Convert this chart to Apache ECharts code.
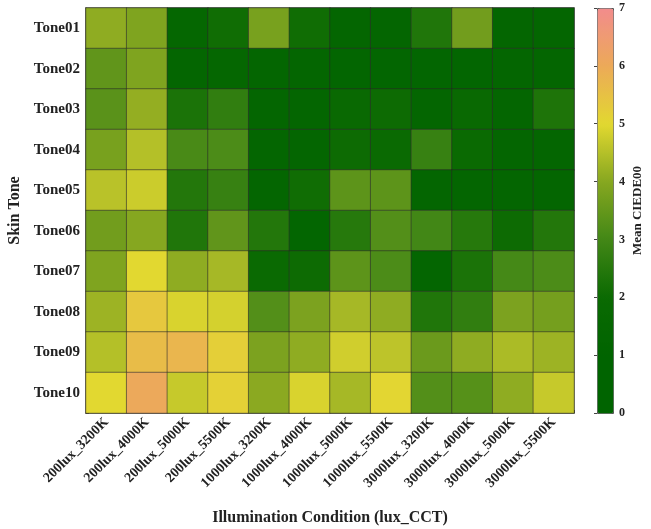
<!DOCTYPE html>
<html>
<head>
<meta charset="utf-8">
<title>Mean CIEDE00 heatmap</title>
<script src="https://cdn.jsdelivr.net/npm/echarts@6/dist/echarts.min.js"></script>
<style>
  html, body { margin: 0; padding: 0; background: #fff; }
  #chart { width: 651px; height: 529px; }
</style>
</head>
<body>
<div id="chart"></div>
<script>
// 光照条件 (x 轴)
var conditions = ['200lux_3200K', '200lux_4000K', '200lux_5000K', '200lux_5500K',
  '1000lux_3200K', '1000lux_4000K', '1000lux_5000K', '1000lux_5500K',
  '3000lux_3200K', '3000lux_4000K', '3000lux_5000K', '3000lux_5500K'];
// 肤色 (y 轴)
var tones = ['Tone01', 'Tone02', 'Tone03', 'Tone04', 'Tone05',
  'Tone06', 'Tone07', 'Tone08', 'Tone09', 'Tone10'];

// 每行一个肤色, 按光照条件顺序
var tone01 = [4.1, 3.9, 1.5, 2.1, 3.8, 2.1, 1.4, 1.4, 2.4, 3.7, 1.4, 1.4];
var tone02 = [3.45, 3.9, 1.4, 1.5, 1.4, 1.4, 1.3, 1.3, 1.3, 1.3, 1.4, 1.4];
var tone03 = [3.35, 4.15, 2.3, 2.7, 1.4, 1.4, 1.9, 2.05, 1.4, 1.9, 1.4, 2.35];
var tone04 = [3.8, 4.5, 3.1, 3.15, 1.4, 1.4, 2.05, 1.95, 2.8, 2.0, 1.4, 1.4];
var tone05 = [4.55, 4.75, 2.45, 2.8, 1.4, 2.1, 3.4, 3.4, 1.4, 1.4, 1.4, 1.4];
var tone06 = [3.7, 4.0, 2.4, 3.45, 2.45, 1.3, 2.5, 3.25, 3.0, 2.5, 2.05, 2.45];
var tone07 = [3.9, 5.0, 4.1, 4.35, 2.0, 2.05, 3.4, 3.15, 1.4, 2.3, 3.05, 3.15];
var tone08 = [4.25, 5.35, 4.9, 4.85, 3.25, 3.85, 4.35, 4.1, 2.4, 2.7, 3.85, 3.75];
var tone09 = [4.5, 5.6, 5.75, 5.2, 3.85, 4.1, 4.8, 4.6, 3.6, 4.1, 4.4, 4.25];
var tone10 = [5.0, 6.05, 4.7, 5.15, 4.05, 4.9, 4.35, 5.05, 3.25, 3.3, 4.1, 4.7];

var rows = [tone01, tone02, tone03, tone04, tone05, tone06, tone07, tone08, tone09, tone10];

// 色条刻度
var barTicks = [0, 1, 2, 3, 4, 5, 6, 7];

var FONT = '"Liberation Serif", "DejaVu Serif", serif';

function buildData() {
  var data = [];
  for (var r = 0; r < rows.length; r++) {
    for (var c = 0; c < conditions.length; c++) {
      data.push([c, r, rows[r][c]]);
    }
  }
  return data;
}

var chart = echarts.init(document.getElementById('chart'));

var option = {
  backgroundColor: '#fff',
  animation: false,
  grid: [
    { left: 86, top: 8, width: 488, height: 405, show: true, borderColor: '#666', borderWidth: 1.5,
      containLabel: false, outerBoundsMode: 'none' },
    { left: 597, top: 8, width: 16, height: 405, show: false,
      containLabel: false, outerBoundsMode: 'none' }
  ],
  xAxis: [
    {
      gridIndex: 0,
      type: 'category',
      data: conditions,
      name: 'Illumination Condition (lux_CCT)',
      nameLocation: 'middle',
      nameGap: 97,
      nameTextStyle: { fontFamily: FONT, fontWeight: 'bold', fontSize: 16, color: '#222' },
      axisLine: { show: true, lineStyle: { color: '#666', width: 1.5 } },
      axisTick: { show: true, inside: true, length: 3, lineStyle: { color: '#333' } },
      axisLabel: { rotate: 45, margin: 7, fontFamily: FONT, fontWeight: 'bold', fontSize: 14, color: '#222' },
      splitLine: { show: false }
    },
    { gridIndex: 1, type: 'value', show: false, min: 0, max: 1 }
  ],
  yAxis: [
    {
      gridIndex: 0,
      type: 'category',
      data: tones,
      inverse: true,
      name: 'Skin Tone',
      nameLocation: 'middle',
      nameGap: 49,
      nameRotate: 90,
      nameTextStyle: { fontFamily: FONT, fontWeight: 'bold', fontSize: 16, color: '#222' },
      axisLine: { show: true, lineStyle: { color: '#666', width: 1.5 } },
      axisTick: { show: true, inside: true, length: 3, lineStyle: { color: '#333' } },
      axisLabel: { margin: 6, fontFamily: FONT, fontWeight: 'bold', fontSize: 15, color: '#222' },
      splitLine: { show: false }
    },
    {
      gridIndex: 1,
      type: 'value',
      position: 'right',
      zlevel: 1,
      min: barTicks[0],
      max: barTicks[barTicks.length - 1],
      interval: 1,
      name: 'Mean CIEDE00',
      nameLocation: 'middle',
      nameGap: 18,
      nameRotate: 90,
      nameTextStyle: { fontFamily: FONT, fontWeight: 'bold', fontSize: 13, color: '#222' },
      axisLine: { show: false },
      axisTick: { show: true, inside: true, length: 3, lineStyle: { color: '#444', width: 1 } },
      axisLabel: { margin: 6, fontFamily: FONT, fontWeight: 'bold', fontSize: 12, color: '#222' },
      splitLine: { show: false }
    }
  ],
  visualMap: {
    type: 'continuous',
    min: 0,
    max: 7,
    calculable: false,
    realtime: false,
    seriesIndex: 0,
    left: 597,
    top: 8,
    itemWidth: 16,
    itemHeight: 405,
    padding: 0,
    text: null,
    showLabel: false,
    borderColor: '#555',
    borderWidth: 1,
    inRange: {
      color: ['#006400', '#006400', '#0a6a02', '#428716', '#86a720', '#e2d830', '#ecaa58', '#f28c8c']
    }
  },
  series: [
    {
      type: 'heatmap',
      xAxisIndex: 0,
      yAxisIndex: 0,
      data: buildData(),
      itemStyle: { borderColor: 'rgba(40,40,40,0.55)', borderWidth: 1 },
      emphasis: { disabled: true }
    }
  ]
};

chart.setOption(option);
</script>
</body>
</html>
